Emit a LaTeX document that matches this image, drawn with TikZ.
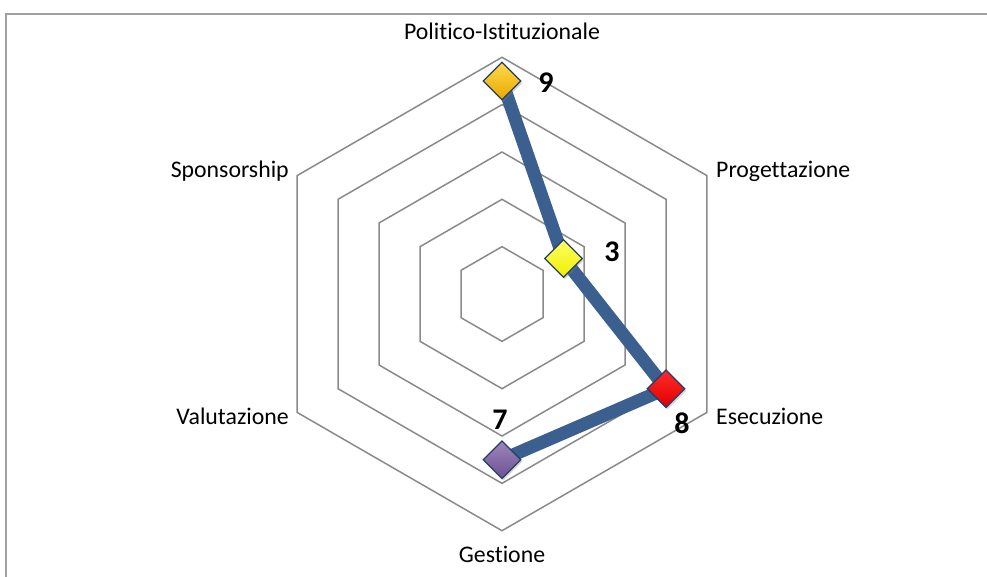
\documentclass[tikz,border=0pt]{standalone}
\usepackage{fontspec}
\setmainfont{Carlito}[Ligatures={NoCommon}]
\usetikzlibrary{shapes.geometric,shadows,backgrounds}
\definecolor{gridgray}{HTML}{8A8A8A}
\definecolor{framegray}{HTML}{A0A0A0}
\definecolor{serieblue}{HTML}{3B5F8E}
\definecolor{edgeblue}{HTML}{233F66}
\definecolor{goldtop}{HTML}{FFD94A}
\definecolor{goldbot}{HTML}{E9A800}
\definecolor{yeltop}{HTML}{FFFF66}
\definecolor{yelbot}{HTML}{EEEE00}
\definecolor{redtop}{HTML}{FF2A2A}
\definecolor{redbot}{HTML}{E00000}
\definecolor{purtop}{HTML}{9C86BC}
\definecolor{purbot}{HTML}{6E5192}
\begin{document}
\begin{tikzpicture}[x=1pt,y=-1pt,
  grid/.style={draw=gridgray, line width=1.5pt, line join=miter},
  serie/.style={draw=serieblue, line width=13pt, line join=round},
  axislabel/.style={font=\fontsize{23.8}{28}\selectfont, inner sep=0pt},
  valuelabel/.style={font=\fontsize{30}{34}\selectfont\bfseries, inner sep=0pt},
  marker/.style={diamond, draw=edgeblue, line width=1.3pt, minimum width=38pt,
    minimum height=38pt, inner sep=0pt,
    drop shadow={shadow xshift=1.5pt, shadow yshift=-2pt, opacity=0.35}},
]
\useasboundingbox (0,0) rectangle (987,577);

% outer frame of the chart area
\draw[framegray, line width=2pt] (5.5,577) -- (5.5,14) -- (987,14);

% radar: centre at (502,294), ten units = 236.7
\begin{scope}[shift={(502,294)}, yscale=-1]
  \coordinate (c9) at (90:213.0);
  \coordinate (c3) at (30:71.0);
  \coordinate (c8) at (-30:189.4);
  \coordinate (c7) at (-90:165.7);
  \begin{pgfonlayer}{background}
    \foreach \k in {1,...,5}{
      \pgfmathsetmacro{\r}{\k*47.34}
      \draw[grid] (90:\r) -- (30:\r) -- (-30:\r) -- (-90:\r) -- (-150:\r) -- (150:\r) -- cycle;
    }
    \draw[serie] (c9) -- (c3) -- (c8) -- (c7);
  \end{pgfonlayer}
  \node[marker, top color=goldtop, bottom color=goldbot] (p9) at (c9) {};
  \node[marker, top color=yeltop, bottom color=yelbot] (p3) at (c3) {};
  \node[marker, top color=redtop, bottom color=redbot] (p8) at (c8) {};
  \node[marker, top color=purtop, bottom color=purbot] (p7) at (c7) {};
\end{scope}

% axis labels
\node[axislabel] (lpol) at (502,31) {Politico-Istituzionale};
\node[axislabel, anchor=west] (lprog) at (716,171) {Progettazione};
\node[axislabel, anchor=west] (lesec) at (716,416) {Esecuzione};
\node[axislabel] (lgest) at (502,554) {Gestione};
\node[axislabel, anchor=east] (lval) at (289,416) {Valutazione};
\node[axislabel, anchor=east] (lspon) at (289,171) {Sponsorship};

% data labels
\node[valuelabel] (v9) at (546,83) {9};
\node[valuelabel] (v3) at (612,252) {3};
\node[valuelabel] (v8) at (682,423) {8};
\node[valuelabel] (v7) at (500,420) {7};
\end{tikzpicture}
\end{document}
